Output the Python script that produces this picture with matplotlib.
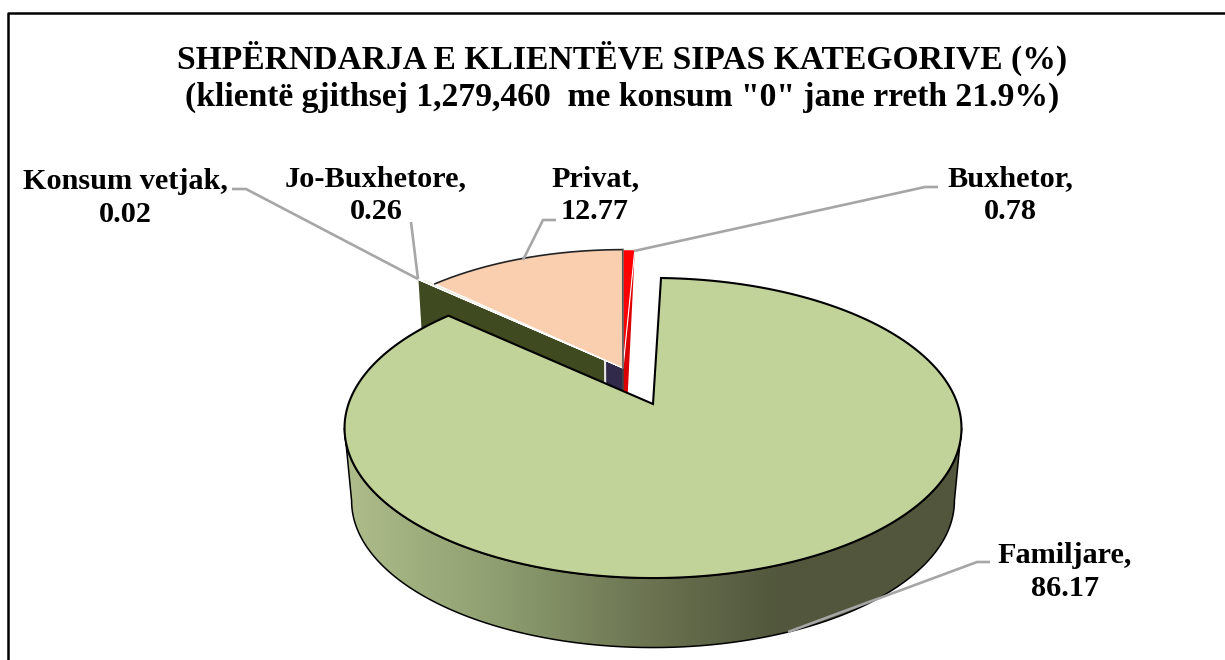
import numpy as np
import matplotlib
matplotlib.use('Agg')
import matplotlib.pyplot as plt
from matplotlib.patches import Polygon

categories = ['Familjare', 'Konsum vetjak', 'Jo-Buxhetore', 'Privat', 'Buxhetor']
shares = [86.17, 0.02, 0.26, 12.77, 0.78]
title_lines = ['SHPËRNDARJA E KLIENTËVE SIPAS KATEGORIVE (%)',
               '(klientë gjithsej 1,279,460  me konsum "0" jane rreth 21.9%)']

# pie layout in pixels, fitted on the picture
cx, cy = 653, 404
A, B, k = 304.5, 146.2, 0.16
drop, taper = 73.5, 0.023
start = 1.75
group_off = (-30, -36)
turn_begin = {'Familjare': 0, 'Konsum vetjak': 0, 'Jo-Buxhetore': 0, 'Privat': 0, 'Buxhetor': 1.0}
turn_end = {'Familjare': 0, 'Konsum vetjak': 0, 'Jo-Buxhetore': 0, 'Privat': 1.0, 'Buxhetor': 1.0}
radius = {'Konsum vetjak': 1.0, 'Jo-Buxhetore': 0.985, 'Privat': 0.93, 'Buxhetor': 0.93}
top_color = {'Familjare': '#C2D39A', 'Konsum vetjak': '#B5C98A', 'Jo-Buxhetore': '#E8EBD8',
             'Privat': '#F9CFB0', 'Buxhetor': '#FF0000'}
label_pos = {'Familjare': (1065, 572), 'Konsum vetjak': (125, 198), 'Jo-Buxhetore': (376, 195),
             'Privat': (595, 195), 'Buxhetor': (1010, 195)}
leaders = {'Familjare': [(990, 562), (977, 562), (788, 632)],
           'Konsum vetjak': [(232, 189), (246, 189), (418, 279)],
           'Jo-Buxhetore': [(411, 222), (418, 279)],
           'Privat': [(556, 220), (543, 220), (523, 260)],
           'Buxhetor': [(938, 187), (925, 187), (634, 251)]}


def project(theta, r=1.0, z=0.0, off=(0, 0)):
    t = np.radians(theta)
    u, v = r * np.sin(t), r * np.cos(t)
    s = 1 / (1 + k * v)
    shrink = 1 - taper * z
    return np.column_stack([cx + off[0] + A * shrink * u * s,
                            cy + off[1] + drop * z - B * shrink * v * s])


def wedge(a0, a1, r=1.0, off=(0, 0)):
    arc = project(np.linspace(a0, a1, 300), r, 0, off)
    return np.vstack([project(np.array([a0]), 0, 0, off), arc])


def face(theta, r0, r1, z=1.0, off=(0, 0), end_r=None):
    # flat cut face of a slice along one radius
    t = np.array([theta])
    end_r = r1 if end_r is None else end_r
    return np.vstack([project(t, r0, 0, off), project(t, r1, 0, off),
                      project(t, end_r, z, off), project(t, r0, z, off)])


plt.rcParams['font.family'] = ['Liberation Serif', 'DejaVu Serif']
fig = plt.figure(figsize=(12.25, 6.6), dpi=100)
ax = fig.add_axes([0, 0, 1, 1])
ax.set_xlim(0, 1225)
ax.set_ylim(660, 0)
ax.axis('off')

# frame runs off the right and bottom of the picture
ax.plot([7.5, 7.5, 1225], [660, 12.5, 12.5], color='black', lw=1.8, zorder=1)

ends = start + np.cumsum(shares) * 3.6
begins = np.concatenate([[start], ends[:-1]])
angles = {c: (a0 + turn_begin[c], a1 + turn_end[c]) for c, a0, a1 in zip(categories, begins, ends)}

# outer wall of the big slice, gradient clipped to it
side = np.degrees(np.arccos(-k))
th = np.linspace(side, 360 - side, 400)
wall = np.vstack([project(th, 1, 0), project(th[::-1], 1, 1)])
patch = Polygon(wall, closed=True, fc='none', ec='black', lw=1.1, zorder=3)
ax.add_patch(patch)
stops = ['#AEBD8A', '#8E9E70', '#6A7250', '#51563C', '#51563C']
rgb = np.array([matplotlib.colors.to_rgb(c) for c in stops])
xs = np.linspace(0, 1, 256)
grad = np.stack([np.interp(xs, [0, 0.25, 0.5, 0.71, 1], rgb[:, i]) for i in range(3)], axis=-1)[None, :, :]
im = ax.imshow(grad, extent=(345, 962, 660, 400), aspect='auto', zorder=2)
im.set_clip_path(patch)
ax.set_xlim(0, 1225)
ax.set_ylim(660, 0)

# inner cut faces seen in the gap
kons = angles['Konsum vetjak'][0]
ax.add_patch(Polygon(face(kons, 0, 1, off=group_off), closed=True, fc='#3F4A20', ec='none', zorder=4))
ax.add_patch(Polygon(face(kons, 0, 0.08, off=group_off), closed=True, fc='#322A4A', ec='none', zorder=4.1))
ax.plot(*project(np.array([kons, kons]), 0.08, np.array([0, 1]), group_off).T, color='#E6E6E6', lw=1.5, zorder=4.2)
bux = angles['Buxhetor'][1]
ax.add_patch(Polygon(face(bux, 0, radius['Buxhetor'], off=group_off, end_r=0.35), closed=True,
                     fc='#DD0000', ec='none', zorder=4))

# small slices, top faces
for cat in categories[1:]:
    a0, a1 = angles[cat]
    ax.add_patch(Polygon(wedge(a0, a1, radius[cat], group_off), closed=True, fc=top_color[cat],
                         ec='white', lw=0.8, zorder=5))
a0, a1 = angles['Privat']
ax.plot(*project(np.linspace(a0, a1, 200), radius['Privat'], 0, group_off).T, color='#222222', lw=1.2, zorder=6)
ax.plot(*project(np.array([a1, a1]), np.array([radius['Privat'], 0]), 0, group_off).T, color='#555555', lw=1.2, zorder=6)
ax.plot(*project(np.array([a1, a1]), 0, np.array([0, 1]), group_off).T, color='#444444', lw=1.2, zorder=4.3)

# big slice top
a0, a1 = angles['Familjare']
ax.add_patch(Polygon(wedge(a0, a1), closed=True, fc=top_color['Familjare'], ec='black', lw=1.5, zorder=7))

for cat, share in zip(categories, shares):
    pts = np.array(leaders[cat])
    ax.plot(pts[:, 0], pts[:, 1], color='#A6A6A6', lw=1.9, zorder=8, solid_capstyle='butt')
    ax.text(*label_pos[cat], f'{cat},\n{share:.2f}', ha='center', va='center', fontsize=21.8,
            fontweight='bold', linespacing=1.3, zorder=9)

ax.text(622, 77, '\n'.join(title_lines), ha='center', va='center', fontsize=24.2,
        fontweight='bold', linespacing=1.26, zorder=9)

fig.savefig('out.png', dpi=100)
